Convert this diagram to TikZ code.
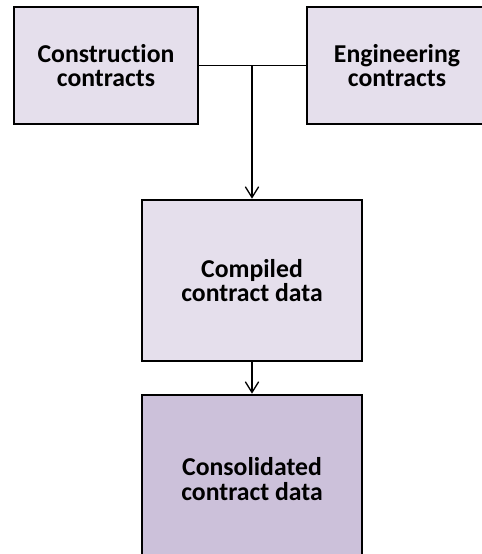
\documentclass[tikz,border=0pt]{standalone}
\usepackage{fontspec}
\setmainfont{Carlito}[RawFeature=-liga]
\usetikzlibrary{arrows.meta}

\definecolor{boxlight}{RGB}{229,223,236}
\definecolor{boxdark}{RGB}{204,193,218}

\tikzset{every picture/.style={line width=0.75pt}}
\tikzset{
  flowbox/.style={draw=black, line width=2pt, fill=boxlight, align=center,
    inner sep=0.75pt, font=\fontsize{19.3}{18.5}\selectfont\bfseries},
  flowarrow/.style={line width=1pt, -{Straight Barb[length=8pt,width=10pt]}}
}

\begin{document}
\begin{tikzpicture}[x=0.75pt,y=0.75pt,yscale=-1,xscale=1]
\useasboundingbox (0,0) rectangle (482,554);
\clip (0,0) rectangle (482,554);

% Text Node
\node (construction) [flowbox, minimum width=184*0.75pt, minimum height=117*0.75pt] at (106,65.5) {Construction\\contracts};
% Text Node
\node (engineering) [flowbox, minimum width=180*0.75pt, minimum height=117*0.75pt] at (397,65.5) {Engineering\\contracts};
% Text Node
\node (compiled) [flowbox, minimum width=220*0.75pt, minimum height=161*0.75pt] at (252,280.5) {Compiled\\contract data};
% Text Node
\node (consolidated) [flowbox, fill=boxdark, minimum width=220*0.75pt, minimum height=168*0.75pt] at (252,479) {Consolidated\\contract data};

%Straight Lines
\draw [line width=1pt] (construction.east) -- (engineering.west);
\coordinate (join) at (compiled.north |- construction.east);
%Straight Lines
\draw [flowarrow] (join) -- (compiled.north);
%Straight Lines
\draw [flowarrow] (compiled.south) -- (consolidated.north);

\end{tikzpicture}
\end{document}
